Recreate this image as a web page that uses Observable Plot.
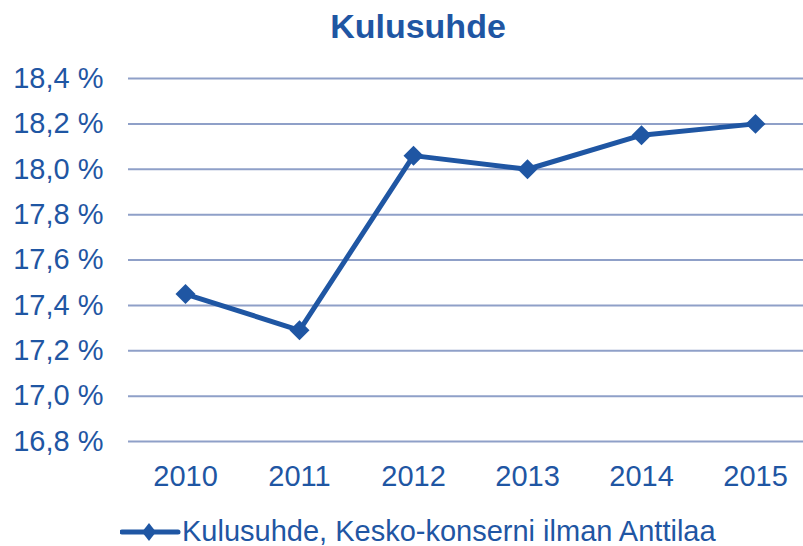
<!DOCTYPE html>
<html>
<head>
<meta charset="utf-8">
<script src="https://cdn.jsdelivr.net/npm/d3@7"></script>
<script src="https://cdn.jsdelivr.net/npm/@observablehq/plot@0.6"></script>
<style>
  html, body { margin: 0; padding: 0; background: #fff; }
  #wrap { position: relative; width: 803px; height: 546px; overflow: hidden; font-family: "Liberation Sans", Arial, sans-serif; color: #1F56A3; }
  #title { position: absolute; left: 0; width: 836px; top: 8.5px; text-align: center; font-size: 34px; font-weight: bold; line-height: 1; }
  #legend-text { position: absolute; left: 182px; top: 516.5px; font-size: 29px; line-height: 1; white-space: nowrap; }
  #legend-swatch { position: absolute; left: 120px; top: 520px; }
  #chart { position: absolute; left: 0; top: 0; }
</style>
</head>
<body>
<div id="wrap">
  <div id="chart"></div>
  <div id="title">Kulusuhde</div>
  <svg id="legend-swatch" width="62" height="24">
    <line x1="2" y1="12" x2="58" y2="12" stroke="#1F56A3" stroke-width="5" stroke-linecap="round"></line>
    <path d="M29,3 L36,12 L29,21 L22,12 Z" fill="#1F56A3"></path>
  </svg>
  <div id="legend-text">Kulusuhde, Kesko-konserni ilman Anttilaa</div>
</div>
<script>
const years = ["2010", "2011", "2012", "2013", "2014", "2015"];
const values = [17.45, 17.29, 18.06, 18.00, 18.15, 18.20];
const yTicks = [16.8, 17.0, 17.2, 17.4, 17.6, 17.8, 18.0, 18.2, 18.4];

const data = years.map((y, i) => ({year: y, value: values[i]}));
const blue = "#1F56A3";

const chart = Plot.plot({
  width: 803,
  height: 546,
  marginTop: 78,
  marginBottom: 105,
  marginLeft: 128,
  marginRight: 0,
  style: {fontFamily: "'Liberation Sans', Arial, sans-serif", fontSize: "29px", color: blue, background: "transparent"},
  x: {type: "point", domain: years, range: [185, 755], padding: 0, label: null},
  y: {domain: [16.8, 18.4], label: null},
  marks: [
    Plot.ruleY(yTicks, {stroke: "#8FA0C8", strokeWidth: 2}),
    Plot.axisY({ticks: yTicks, tickSize: 0, tickPadding: 25, tickFormat: d => d.toFixed(1).replace(".", ",") + " %", label: null, fill: blue}),
    Plot.axisX({tickSize: 0, tickPadding: 24, label: null, fill: blue}),
    Plot.line(data, {x: "year", y: "value", stroke: blue, strokeWidth: 5, strokeLinejoin: "miter"}),
    Plot.dot(data, {x: "year", y: "value", symbol: "diamond2", r: 9, fill: blue, stroke: "none"})
  ]
});
document.getElementById("chart").appendChild(chart);
</script>
</body>
</html>
